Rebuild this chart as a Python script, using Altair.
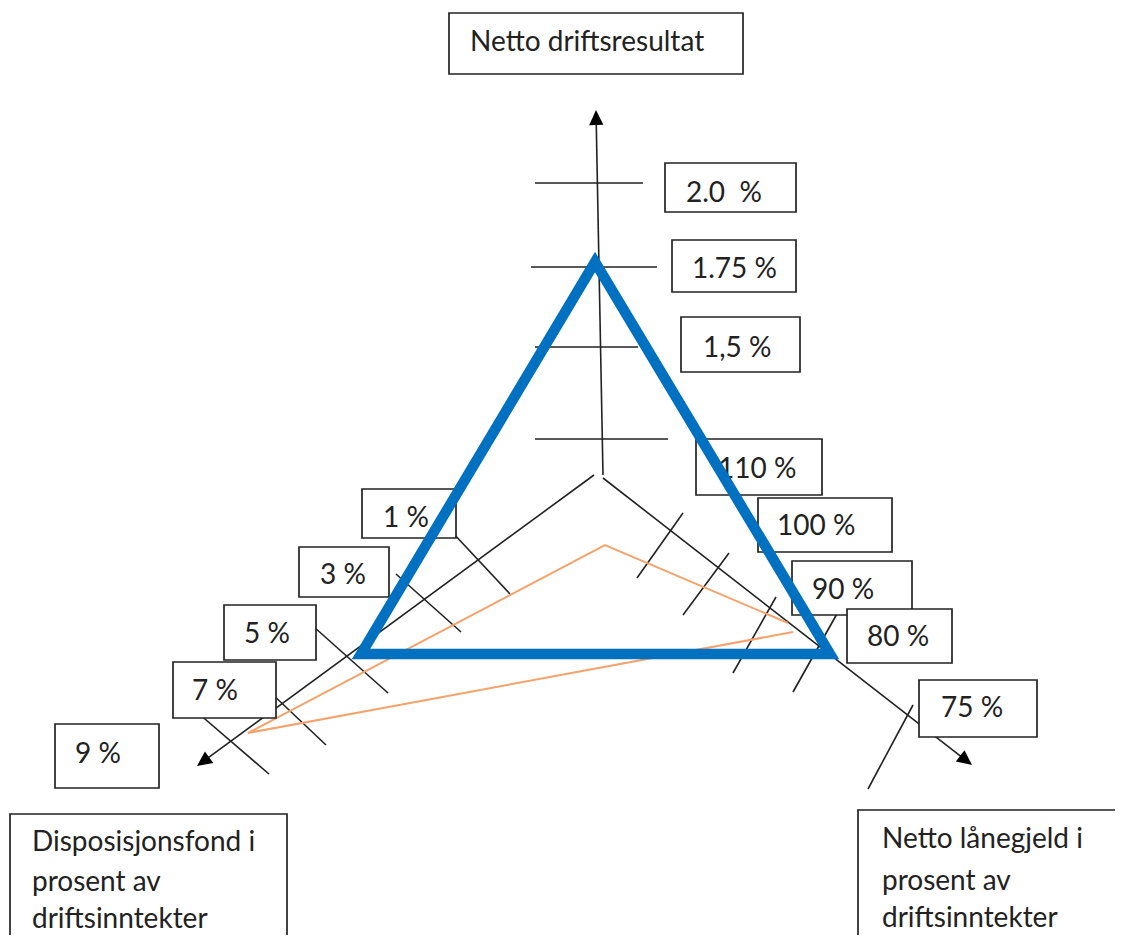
import altair as alt
import numpy as np
import pandas as pd

FONT = "Lato"
INK = "#222222"
BLUE = "#0070C0"
ORANGE = "#F4A36C"

# ---------------- text content ----------------
title_top = ["Netto driftsresultat"]
title_left = ["Disposisjonsfond i", "prosent av", "driftsinntekter"]
title_right = ["Netto lånegjeld i", "prosent av", "driftsinntekter"]
top_labels = ["2.0\u00a0 %", "1.75 %", "1,5 %"]
right_labels = ["110 %", "100 %", "90 %", "80 %", "75 %"]
left_labels = ["1 %", "3 %", "5 %", "7 %", "9 %"]

# ---------------- diagram geometry (diagram units, y grows downward) ----------------
# axes: start at hub, end at arrow tip (top, lower-left, lower-right)
axis_x0 = [603, 594, 603]
axis_y0 = [475, 475, 478]
axis_x1 = [596, 197, 972]
axis_y1 = [110, 766, 765]

# tick marks on the vertical axis (horizontal strokes)
top_tick_y = [183, 267, 347, 439]
top_tick_xl = [535, 531, 535, 535]
top_tick_xr = [643, 657, 638, 668]

# tick marks on the lower-left axis
lt_x1 = [452, 396, 314, 270, 198]
lt_y1 = [532, 574, 627, 692, 713]
lt_x2 = [510, 461, 388, 326, 269]
lt_y2 = [594, 632, 693, 745, 774]

# tick marks on the lower-right axis
rt_x1 = [683, 729, 776, 838, 913]
rt_y1 = [513, 553, 597, 612, 705]
rt_x2 = [637, 683, 733, 793, 868]
rt_y2 = [578, 615, 673, 692, 789]

# label boxes: left, top, right, bottom
box_top = [449, 13, 743, 74]
top_box_x1 = [665, 672, 681]
top_box_y1 = [163, 240, 317]
top_box_x2 = [796, 796, 800]
top_box_y2 = [212, 292, 372]
right_box_x1 = [696, 758, 792, 847, 919]
right_box_y1 = [439, 498, 561, 609, 680]
right_box_x2 = [822, 892, 912, 952, 1037]
right_box_y2 = [495, 552, 615, 663, 737]
left_box_x1 = [362, 299, 224, 173, 55]
left_box_y1 = [489, 547, 605, 662, 724]
left_box_x2 = [456, 389, 316, 276, 159]
left_box_y2 = [538, 597, 660, 718, 788]
box_left = [10, 814, 287, 990]
box_right = [858, 810, 1120, 941]

# label text anchors (left x, baseline y)
top_text_x = [686, 692, 703]
top_text_y = [202, 278, 357]
right_text_x = [718, 777, 812, 867, 941]
right_text_y = [478, 535, 599, 646, 717]
left_text_x = [383, 320, 244, 192, 75]
left_text_y = [527, 584, 643, 700, 763]
title_top_xy = [470, 51]
title_left_x = 32
title_left_y = [851, 891, 928]
title_right_x = 882
title_right_y = [848, 890, 927]

# polygons (vertex order as drawn)
blue_x = [595, 830, 361, 595, 830]
blue_y = [262, 654, 654, 262, 654]
orange_x = [788, 605, 248, 793]
orange_y = [623, 545, 733, 632]

# ---------------- build tables ----------------
W, H = 1107, 927
xs = alt.Scale(domain=[8, 8 + W], nice=False, zero=False)
ys = alt.Scale(domain=[8, 8 + H], nice=False, zero=False, reverse=True)


def X(f):
    return alt.X(f, type="quantitative", scale=xs, axis=None)


def Y(f):
    return alt.Y(f, type="quantitative", scale=ys, axis=None)


# arrow shafts stop at arrowhead base; arrowheads as rotated triangles
ax0 = np.array(axis_x0, float); ay0 = np.array(axis_y0, float)
ax1 = np.array(axis_x1, float); ay1 = np.array(axis_y1, float)
dx, dy = ax1 - ax0, ay1 - ay0
L = np.hypot(dx, dy)
ux, uy = dx / L, dy / L
head_h = 7.5
axes_df = pd.DataFrame({"x": ax0, "y": ay0, "x2": ax1 - ux * 6, "y2": ay1 - uy * 6})
heads_df = pd.DataFrame({
    "x": ax1 - ux * head_h,
    "y": ay1 - uy * head_h,
    "ang": np.degrees(np.arctan2(dx, -dy)) % 360,
})

ticks_df = pd.concat([
    pd.DataFrame({"x": top_tick_xl, "y": top_tick_y, "x2": top_tick_xr, "y2": top_tick_y}),
    pd.DataFrame({"x": lt_x1, "y": lt_y1, "x2": lt_x2, "y2": lt_y2}),
    pd.DataFrame({"x": rt_x1, "y": rt_y1, "x2": rt_x2, "y2": rt_y2}),
], ignore_index=True)
lines_df = pd.concat([axes_df, ticks_df], ignore_index=True)

boxes_df = pd.DataFrame({
    "x": [box_top[0]] + top_box_x1 + right_box_x1 + left_box_x1 + [box_left[0], box_right[0]],
    "y": [box_top[1]] + top_box_y1 + right_box_y1 + left_box_y1 + [box_left[1], box_right[1]],
    "x2": [box_top[2]] + top_box_x2 + right_box_x2 + left_box_x2 + [box_left[2], box_right[2]],
    "y2": [box_top[3]] + top_box_y2 + right_box_y2 + left_box_y2 + [box_left[3], box_right[3]],
})

text_df = pd.DataFrame({
    "t": title_top + top_labels + right_labels + left_labels + title_left + title_right,
    "x": [title_top_xy[0]] + top_text_x + right_text_x + left_text_x
         + [title_left_x] * 3 + [title_right_x] * 3,
    "y": [title_top_xy[1]] + top_text_y + right_text_y + left_text_y + title_left_y + title_right_y,
})

blue_df = pd.DataFrame({"x": blue_x, "y": blue_y, "i": range(len(blue_x))})
orange_df = pd.DataFrame({"x": orange_x, "y": orange_y, "i": range(len(orange_x))})

# ---------------- layers ----------------
lines = alt.Chart(lines_df).mark_rule(color=INK, strokeWidth=1.6).encode(
    x=X("x"), y=Y("y"), x2=alt.X2("x2"), y2=alt.Y2("y2"))

orange = alt.Chart(orange_df).mark_line(color=ORANGE, strokeWidth=2).encode(
    x=X("x"), y=Y("y"), order=alt.Order("i:Q"))

boxes = alt.Chart(boxes_df).mark_rect(fill="white", stroke=INK, strokeWidth=1.7).encode(
    x=X("x"), y=Y("y"), x2=alt.X2("x2"), y2=alt.Y2("y2"))

texts = alt.Chart(text_df).mark_text(
    align="left", baseline="alphabetic", font=FONT, fontSize=28, color=INK
).encode(x=X("x"), y=Y("y"), text="t:N")

blue = alt.Chart(blue_df).mark_line(
    color=BLUE, strokeWidth=10.5, strokeJoin="miter", strokeCap="butt"
).encode(x=X("x"), y=Y("y"), order=alt.Order("i:Q"))

heads = alt.Chart(heads_df).mark_point(
    shape="M0,-1L0.95,1L-0.95,1Z", filled=True, color="black", size=225, opacity=1
).encode(x=X("x"), y=Y("y"), angle=alt.Angle("ang:Q", scale=None))

chart = alt.layer(lines, orange, boxes, texts, blue, heads).properties(
    width=W, height=H, padding=0, autosize=alt.AutoSizeParams(type="none"),
    background="white",
).configure_view(stroke=None)

chart.save("out.html", embed_options={"renderer": "svg", "actions": False})
